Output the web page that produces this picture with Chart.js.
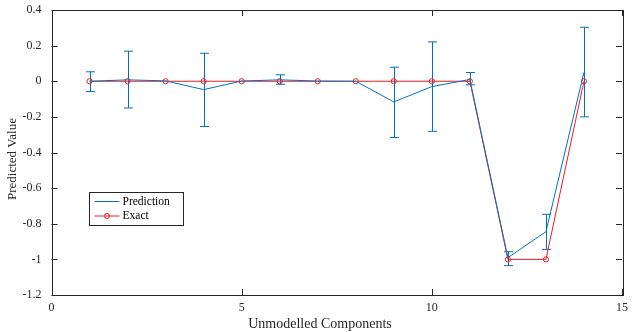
<!DOCTYPE html>
<html>
<head>
<meta charset="utf-8">
<script src="https://cdn.jsdelivr.net/npm/chart.js@4"></script>
<style>
  html, body { margin: 0; padding: 0; background: #fff; }
  #wrap { width: 636px; height: 332px; }
</style>
</head>
<body>
<div id="wrap"><canvas id="chart" width="636" height="332"></canvas></div>
<script>
const components = [1, 2, 3, 4, 5, 6, 7, 8, 9, 10, 11, 12, 13, 14];
const prediction = [0, 0.008, 0.002, -0.047, 0.001, 0.008, 0.001, 0.0, -0.116, -0.03, 0.01, -0.99, -0.845, 0.05];
const errHigh = [0.053, 0.169, 0.004, 0.157, 0.003, 0.036, 0.003, 0.002, 0.079, 0.221, 0.049, -0.957, -0.747, 0.303];
const errLow = [-0.058, -0.15, 0.0, -0.254, -0.001, -0.017, -0.001, -0.002, -0.316, -0.281, -0.02, -1.035, -0.944, -0.2];
const exact = [0, 0, 0, 0, 0, 0, 0, 0, 0, 0, 0, -1, -1, 0];
const xTicks = [0, 5, 10, 15];
const yTicks = [0.4, 0.2, 0, -0.2, -0.4, -0.6, -0.8, -1, -1.2];
const xTitle = "Unmodelled Components";
const yTitle = "Predicted Value";

const blue = "#0072BD";
const red = "#ee1c25";
const font = "'Liberation Serif', 'DejaVu Serif', serif";

// error bars, box, inward ticks, axis titles and legend
const extras = {
  id: "extras",
  beforeDatasetsDraw(chart) {
    const { ctx, scales: { x, y } } = chart;
    ctx.save();
    ctx.strokeStyle = blue;
    ctx.lineWidth = 1;
    components.forEach((c, i) => {
      const px = Math.round(x.getPixelForValue(c)) + 0.5;
      const top = y.getPixelForValue(errHigh[i]);
      const bot = y.getPixelForValue(errLow[i]);
      if (Math.abs(bot - top) < 2) return;
      ctx.beginPath();
      ctx.moveTo(px, top); ctx.lineTo(px, bot);
      ctx.moveTo(px - 4.5, top); ctx.lineTo(px + 4.5, top);
      ctx.moveTo(px - 4.5, bot); ctx.lineTo(px + 4.5, bot);
      ctx.stroke();
    });
    ctx.restore();
  },
  afterDraw(chart) {
    const { ctx, chartArea: a, scales: { x, y } } = chart;
    ctx.save();
    ctx.strokeStyle = "#262626";
    ctx.lineWidth = 1;
    ctx.strokeRect(Math.round(a.left) + 0.5, Math.round(a.top) + 0.5,
      Math.round(a.right - a.left), Math.round(a.bottom - a.top));
    ctx.beginPath();
    xTicks.forEach(v => {
      const px = Math.round(x.getPixelForValue(v)) + 0.5;
      ctx.moveTo(px, a.bottom); ctx.lineTo(px, a.bottom - 6);
      ctx.moveTo(px, a.top); ctx.lineTo(px, a.top + 6);
    });
    yTicks.forEach(v => {
      const py = Math.round(y.getPixelForValue(v)) + 0.5;
      ctx.moveTo(a.left, py); ctx.lineTo(a.left + 6, py);
      ctx.moveTo(a.right, py); ctx.lineTo(a.right - 6, py);
    });
    ctx.stroke();

    // axis titles
    ctx.fillStyle = "#262626";
    ctx.textAlign = "center";
    ctx.textBaseline = "middle";
    ctx.font = "14px " + font;
    ctx.fillText(xTitle, 320, 324);
    ctx.save();
    ctx.translate(13, 159);
    ctx.rotate(-Math.PI / 2);
    ctx.font = "13px " + font;
    ctx.fillText(yTitle, 0, 0);
    ctx.restore();

    // legend
    const lx = 89.5, ly = 192.5, lw = 94, lh = 33;
    ctx.fillStyle = "#fff";
    ctx.fillRect(lx, ly, lw, lh);
    ctx.strokeStyle = "#262626";
    ctx.strokeRect(lx, ly, lw, lh);
    ctx.font = "11.5px " + font;
    ctx.textAlign = "left";
    ctx.fillStyle = "#000";
    chart.data.datasets.forEach((ds, i) => {
      const cy = ly + 9 + i * 14.5;
      ctx.strokeStyle = ds.borderColor;
      ctx.beginPath();
      ctx.moveTo(lx + 5, cy); ctx.lineTo(lx + 30, cy);
      ctx.stroke();
      if (ds.pointRadius > 0) {
        ctx.beginPath();
        ctx.arc(lx + 17.5, cy, 2.5, 0, Math.PI * 2);
        ctx.stroke();
      }
      ctx.fillText(ds.label, lx + 33, cy);
    });
    ctx.restore();
  }
};

new Chart(document.getElementById("chart"), {
  type: "scatter",
  data: {
    datasets: [
      {
        label: "Prediction",
        data: components.map((c, i) => ({ x: c, y: prediction[i] })),
        showLine: true,
        borderColor: blue,
        borderWidth: 1,
        pointRadius: 0,
        fill: false
      },
      {
        label: "Exact",
        data: components.map((c, i) => ({ x: c, y: exact[i] })),
        showLine: true,
        borderColor: red,
        borderWidth: 1,
        pointRadius: 2.6,
        pointBorderWidth: 1,
        pointBackgroundColor: "rgba(0,0,0,0)",
        pointBorderColor: red,
        fill: false
      }
    ]
  },
  options: {
    responsive: false,
    animation: false,
    layout: { padding: { top: 10, right: 14, left: 0, bottom: 0 } },
    plugins: { legend: { display: false }, tooltip: { enabled: false } },
    scales: {
      x: {
        type: "linear",
        min: 0, max: 15,
        afterBuildTicks: s => { s.ticks = xTicks.map(v => ({ value: v })); },
        afterFit: s => { s.height = 37; s.paddingLeft = 0; s.paddingRight = 0; },
        grid: { display: false, drawTicks: false },
        border: { display: false },
        ticks: { color: "#262626", font: { family: font, size: 12 }, padding: 6,
          callback: v => String(v) }
      },
      y: {
        type: "linear",
        min: -1.2, max: 0.4,
        afterBuildTicks: s => { s.ticks = yTicks.map(v => ({ value: v })); },
        afterFit: s => { s.width = 51.5; s.paddingTop = 0; s.paddingBottom = 0; },
        grid: { display: false, drawTicks: false },
        border: { display: false },
        ticks: { color: "#262626", font: { family: font, size: 12 }, padding: 10,
          callback: v => String(Math.round(v * 10) / 10) }
      }
    }
  },
  plugins: [extras]
});
</script>
</body>
</html>
